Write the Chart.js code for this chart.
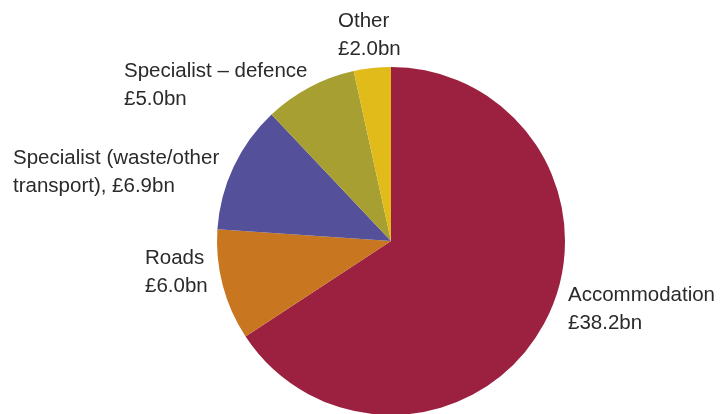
<!DOCTYPE html>
<html>
<head>
<meta charset="utf-8">
<script src="https://cdn.jsdelivr.net/npm/chart.js@4.4.1/dist/chart.umd.min.js"></script>
<style>
  html, body { margin: 0; padding: 0; background: #fff; }
  #wrap { width: 723px; height: 414px; position: relative; }
</style>
</head>
<body>
<div id="wrap"><canvas id="pieChart"></canvas></div>
<script>
const categories = ['Accommodation', 'Roads', 'Specialist (waste/other transport)', 'Specialist – defence', 'Other'];
const values = [38.2, 6.0, 6.9, 5.0, 2.0];
const colours = ['#9C2140', '#C8761F', '#54509A', '#A89F32', '#E0BB19'];

// label text lines, as printed next to each slice
const labelLines = [
    ['Accommodation', '£38.2bn'],
    ['Roads', '£6.0bn'],
    ['Specialist (waste/other', 'transport), £6.9bn'],
    ['Specialist – defence', '£5.0bn'],
    ['Other', '£2.0bn']
];
// where each label block starts (left x, first baseline y)
const labelAnchors = [
    { x: 568, y: 301 },
    { x: 145, y: 264 },
    { x: 13, y: 164 },
    { x: 124, y: 77 },
    { x: 338, y: 27 }
];

const sliceLabels = {
    id: 'sliceLabels',
    afterDraw(chart) {
        const ctx = chart.ctx;
        ctx.save();
        ctx.font = '20.5px "Liberation Sans", Arial, sans-serif';
        ctx.fillStyle = '#2a2a2a';
        ctx.textAlign = 'left';
        ctx.textBaseline = 'alphabetic';
        labelLines.forEach((lines, i) => {
            const a = labelAnchors[i];
            lines.forEach((line, j) => {
                ctx.fillText(line, a.x, a.y + j * 27.5);
            });
        });
        ctx.restore();
    }
};

const ctx = document.getElementById('pieChart').getContext('2d');
new Chart(ctx, {
    type: 'pie',
    data: {
        labels: categories,
        datasets: [{
            data: values,
            backgroundColor: colours,
            borderWidth: 0
        }]
    },
    options: {
        responsive: true,
        maintainAspectRatio: false,
        animation: false,
        radius: 174,
        layout: {
            padding: { left: 59, right: 0, top: 68, bottom: 0 }
        },
        plugins: {
            legend: { display: false },
            tooltip: { enabled: false }
        }
    },
    plugins: [sliceLabels]
});
</script>
</body>
</html>
